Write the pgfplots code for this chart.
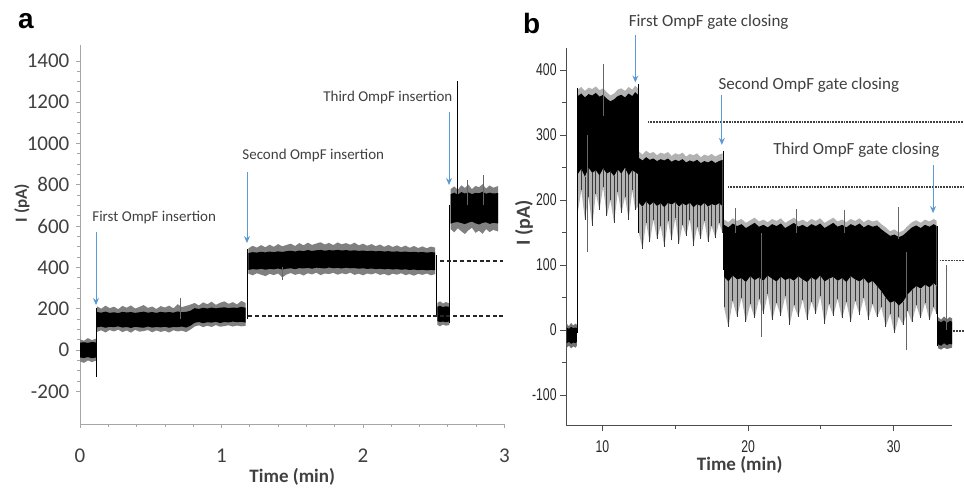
\documentclass[border=0pt]{standalone}
\usepackage{pgfplots}
\pgfplotsset{compat=1.18}
\usepackage{pgfplotstable}
\usepgfplotslibrary{fillbetween}
\usetikzlibrary{arrows.meta}
\usepackage{fontspec}
\setmainfont{Carlito}
\newfontfamily\narrowfont[FakeStretch=0.72]{Liberation Sans}
\newfontfamily\arialfont{Liberation Sans}
\definecolor{arrowblue}{HTML}{5B9BD5}
\definecolor{txtgray}{HTML}{404040}

% ---------- panel a segments: x (min), outer top, core top, core bottom, outer bottom (pA)
\pgfplotstableread{
x hi ct cb lo
0.000 52 36 -36 -55
0.028 45 38 -38 -62
0.056 58 35 -34 -50
0.084 48 39 -39 -58
0.112 55 37 -36 -52
}\Aa
\pgfplotstableread{
x hi ct cb lo
0.120 212 184 110 88
0.150 200 181 114 96
0.180 215 186 108 85
0.210 203 180 113 97
0.240 210 183 111 90
0.270 198 179 115 99
0.300 214 185 109 87
0.330 205 182 112 95
0.360 216 184 107 84
0.390 201 180 113 98
0.420 209 183 110 89
0.450 218 186 108 92
0.480 204 181 114 97
0.510 211 184 109 86
0.540 199 180 112 95
0.570 213 185 110 88
0.600 206 182 113 93
0.630 215 184 108 85
0.660 202 181 112 96
0.690 222 187 111 90
0.720 208 183 114 94
0.750 214 185 109 87
0.780 220 190 118 99
0.810 228 203 132 114
0.840 216 199 136 120
0.870 231 205 130 111
0.900 222 201 135 118
0.930 234 206 133 112
0.960 219 202 137 121
0.990 229 205 131 113
1.020 236 207 136 116
1.050 224 203 134 120
1.080 232 206 138 114
1.110 221 204 135 119
1.140 238 209 137 115
1.170 228 205 133 117
}\Ab
\pgfplotstableread{
x hi ct cb lo
1.19 492 470 388 370
1.22 505 474 392 362
1.25 496 472 390 372
1.28 508 476 394 365
1.31 498 473 389 358
1.34 510 477 393 369
1.37 500 474 391 363
1.40 513 478 395 371
1.43 502 475 390 352
1.46 509 479 394 366
1.49 515 481 396 373
1.52 504 477 392 364
1.55 518 482 397 370
1.58 507 479 395 361
1.61 520 484 398 372
1.64 509 480 394 366
1.67 516 483 399 375
1.70 522 485 397 363
1.73 511 481 395 371
1.76 519 484 400 368
1.79 508 482 396 374
1.82 521 485 398 365
1.85 512 482 395 372
1.88 518 484 399 367
1.91 510 481 396 375
1.94 520 483 397 364
1.97 507 480 394 370
2.00 515 482 396 362
2.03 505 479 393 371
2.06 513 481 395 366
2.09 503 478 392 373
2.12 511 480 394 364
2.15 500 477 391 369
2.18 509 479 393 361
2.21 499 476 390 370
2.24 507 478 392 365
2.27 497 475 389 372
2.30 506 477 391 363
2.33 495 474 388 368
2.36 504 476 390 360
2.39 494 473 387 369
2.42 502 475 389 364
2.45 493 472 386 371
2.48 501 474 388 362
2.51 496 473 387 368
}\Ac
\pgfplotstableread{
x hi ct cb lo
2.525 228 210 140 122
2.545 236 214 136 115
2.565 225 208 138 124
2.585 233 212 135 118
2.610 226 209 139 121
}\Ad
\pgfplotstableread{
x hi ct cb lo
2.620 780 755 612 585
2.645 792 762 618 570
2.670 776 752 620 590
2.695 798 765 615 575
2.720 785 758 610 562
2.745 801 763 617 580
2.770 779 755 622 592
2.795 795 761 614 568
2.820 788 759 608 578
2.845 803 766 616 563
2.870 782 757 619 586
2.895 797 762 611 571
2.920 786 758 616 582
2.955 794 760 613 574
}\Ae

% ---------- panel b segments
\pgfplotstableread{
x hi ct cb lo
7.55 10 4 -20 -27
7.70 6 2 -18 -24
7.85 11 5 -21 -28
8.00 7 3 -19 -25
8.15 10 4 -20 -27
8.25 8 3 -18 -24
}\Ba
\pgfplotstableread{
x hi ct cb lo
8.30 370 360 240 180
8.55 374 364 248 215
8.80 368 358 236 170
9.05 373 363 250 205
9.30 371 361 242 160
9.55 375 365 246 210
9.80 369 359 238 185
10.05 372 362 249 220
10.30 366 356 241 175
10.55 361 352 244 200
10.80 364 355 237 165
11.05 370 360 247 212
11.30 372 362 241 180
11.55 368 358 250 205
11.80 374 364 238 170
12.05 370 360 246 215
12.25 376 366 243 185
12.45 372 362 240 190
}\Bb
\pgfplotstableread{
x hi ct cb lo
12.50 275 265 196 150
12.75 270 261 190 125
13.00 276 266 198 165
13.25 272 262 192 135
13.50 274 264 197 170
13.75 269 260 191 140
14.00 273 263 195 160
14.25 271 261 189 128
14.50 274 264 196 168
14.75 268 259 193 138
15.00 272 262 197 172
15.25 270 260 190 132
15.50 273 263 195 162
15.75 267 258 192 145
16.00 271 261 196 170
16.25 269 259 189 130
16.50 272 262 194 158
16.75 266 257 191 140
17.00 270 260 196 168
17.25 268 258 190 135
17.50 271 261 194 160
17.75 267 257 192 142
18.00 270 260 195 165
18.25 272 262 191 150
}\Bc
\pgfplotstableread{
x hi ct cb lo
18.35 170 162 82 35
18.65 166 158 75 5
18.95 172 164 84 45
19.25 168 160 78 20
19.55 171 163 80 50
19.85 165 157 74 12
20.15 169 161 83 40
20.45 173 165 77 18
20.75 167 159 81 48
21.05 170 162 76 25
21.35 166 158 84 55
21.65 171 163 79 15
21.95 168 160 75 42
22.25 172 164 82 22
22.55 165 157 77 52
22.85 169 161 80 8
23.15 173 165 76 38
23.45 167 159 83 20
23.75 170 162 78 47
24.05 166 158 74 15
24.35 171 163 81 44
24.65 168 160 77 25
24.95 172 164 84 52
25.25 165 157 75 10
25.55 169 161 79 40
25.85 173 165 82 22
26.15 167 159 76 48
26.45 170 162 80 18
26.75 166 158 74 43
27.05 171 163 83 12
27.35 168 160 78 45
27.65 172 164 75 24
27.95 166 158 80 50
28.25 170 162 72 16
28.55 167 159 76 40
28.85 169 161 68 20
29.15 163 155 60 35
29.45 158 150 50 5
29.75 152 145 42 25
30.05 155 147 45 -5
30.35 150 143 38 20
30.65 153 146 44 8
30.95 160 152 55 30
31.25 166 158 62 12
31.55 169 161 68 38
31.85 165 157 64 18
32.15 170 162 70 42
32.45 167 159 66 15
32.75 171 163 72 35
32.95 168 160 68 25
}\Bd
\pgfplotstableread{
x hi ct cb lo
33.05 20 14 -22 -28
33.25 16 12 -24 -30
33.45 21 15 -20 -27
33.65 17 11 -23 -29
33.85 20 14 -21 -28
34.00 18 13 -22 -27
}\Be

\newcommand{\band}[4]{%
  \addplot[draw=none, forget plot, name path=#2hi] table[x=x,y=hi] {#1};
  \addplot[draw=none, forget plot, name path=#2lo] table[x=x,y=lo] {#1};
  \addplot[draw=none, forget plot, name path=#2ct] table[x=x,y=ct] {#1};
  \addplot[draw=none, forget plot, name path=#2cb] table[x=x,y=cb] {#1};
  \addplot[fill=#3, draw=none, forget plot] fill between[of=#2hi and #2lo];
  \addplot[fill=#4, draw=none, forget plot] fill between[of=#2ct and #2cb];
}
% downward noise spikes: from the core bottom to the outer bottom of each row
\newcommand{\spikes}[1]{%
  \addplot[only marks, mark=none, mark size=0pt, mark options={draw=none, fill=none}, forget plot,
    error bars/.cd, y dir=minus, y explicit, error mark=none,
    error bar style={black!78, line width=0.4pt}]
    table[x=x, y=cb, y error minus expr=\thisrow{cb}-\thisrow{lo}] {#1};
}

\begin{document}
\begin{tikzpicture}

\node[anchor=base west, font=\arialfont\bfseries\fontsize{14}{16}\selectfont] at (5.5pt,-14pt) {a};
\node[anchor=base west, font=\arialfont\bfseries\fontsize{14}{16}\selectfont] at (258pt,-16.5pt) {b};

% ================= panel a
\begin{axis}[
  at={(40pt,-212pt)}, anchor=south west,
  scale only axis, width=212.25pt, height=189.5pt,
  xmin=0, xmax=3, ymin=-358, ymax=1477,
  axis lines*=left, axis line style={gray!70, line width=0.4pt},
  xtick={0,1,2,3}, minor x tick num=4,
  ytick={-200,0,200,400,600,800,1000,1200,1400}, minor y tick num=3,
  tick align=outside, major tick length=1.8pt, minor tick length=1.5pt,
  tick style={gray!70, line width=0.4pt},
  /pgf/number format/assume math mode=true,
  /pgf/number format/1000 sep={},
  scaled ticks=false,
  ticklabel style={font=\fontsize{10.5}{12}\selectfont, text=txtgray},
  xticklabel style={yshift=-7pt},
  xlabel={Time (min)}, ylabel={I (pA)},
  xlabel style={at={(axis description cs:0.5,-0.14)}, anchor=center, font=\bfseries\fontsize{9.5}{11}\selectfont, text=txtgray},
  ylabel style={at={(axis description cs:-0.137,0.583)}, anchor=center, rotate=0, font=\bfseries\fontsize{8.5}{10}\selectfont, text=txtgray},
  clip=false,
]
\band{\Aa}{Aa}{black!50}{black}
\band{\Ab}{Ab}{black!50}{black}
\band{\Ac}{Ac}{black!50}{black}
\band{\Ad}{Ad}{black!50}{black}
\band{\Ae}{Ae}{black!50}{black}
% transitions
\addplot[black, line width=0.5pt, unbounded coords=jump, forget plot] coordinates {
(0.114,-130) (0.114,205) (0.114,nan)
(1.185,150) (1.185,490) (1.185,nan)
(2.52,160) (2.52,460) (2.52,nan)
(2.613,130) (2.613,700) (2.613,nan)
(2.668,650) (2.668,1305)
};
% spikes
\addplot[black!60, line width=0.4pt, unbounded coords=jump, forget plot] coordinates {
(0.71,150) (0.71,252) (0.71,nan)
(1.43,339) (1.43,400) (1.43,nan)
(2.74,700) (2.74,823) (2.74,nan)
(2.85,700) (2.85,847)
};
% level lines
\addplot[black!85, line width=0.8pt, dash pattern=on 2pt off 1.3pt, forget plot] coordinates {(1.19,165) (2.99,165)};
\addplot[black!85, line width=0.8pt, dash pattern=on 2pt off 1.3pt, forget plot] coordinates {(2.545,431) (2.99,431)};
% annotations
\node[anchor=west, font=\fontsize{7.5}{9}\selectfont, text=txtgray, inner sep=0pt] at (axis cs:0.085,644) {First OmpF insertion};
\node[anchor=west, font=\fontsize{7.5}{9}\selectfont, text=txtgray, inner sep=0pt] at (axis cs:1.145,944) {Second OmpF insertion};
\node[anchor=west, font=\fontsize{7.5}{9}\selectfont, text=txtgray, inner sep=0pt] at (axis cs:1.717,1225) {Third OmpF insertion};
\draw[arrowblue, line width=0.45pt, -{Stealth[length=3.5pt,width=3pt]}] (axis cs:0.113,571) -- (axis cs:0.113,218);
\draw[arrowblue, line width=0.45pt, -{Stealth[length=3.5pt,width=3pt]}] (axis cs:1.18,862) -- (axis cs:1.18,518);
\draw[arrowblue, line width=0.45pt, -{Stealth[length=3.5pt,width=3pt]}] (axis cs:2.608,1152) -- (axis cs:2.608,799);
\end{axis}

% ================= panel b
\begin{axis}[
  at={(283pt,-212.5pt)}, anchor=south west,
  scale only axis, width=193pt, height=188.5pt,
  xmin=7.5, xmax=34, ymin=-146, ymax=434,
  axis lines*=left, axis line style={black!70, line width=0.5pt},
  xtick={10,20,30}, minor xtick={15,25},
  ytick={-100,0,100,200,300,400}, minor ytick={-50,50,150,250,350},
  tick align=outside, major tick length=3pt, minor tick length=1.8pt,
  tick style={black!70, line width=0.5pt},
  /pgf/number format/assume math mode=true,
  /pgf/number format/1000 sep={},
  scaled ticks=false,
  ticklabel style={font=\narrowfont\fontsize{8.5}{10}\selectfont, text=black!85},
  yticklabel style={inner sep=1.5pt},
  xticklabel style={yshift=-1.5pt},
  xlabel={Time (min)}, ylabel={I (pA)},
  xlabel style={at={(axis description cs:0.45,-0.106)}, anchor=center, font=\bfseries\fontsize{9.5}{11}\selectfont, text=txtgray},
  ylabel style={at={(axis description cs:-0.109,0.536)}, anchor=center, rotate=0, font=\bfseries\fontsize{10}{12}\selectfont, text=txtgray},
  clip=false,
]
\band{\Ba}{Ba}{black!55}{black}
\band{\Bb}{Bb}{black!30}{black}
\band{\Bc}{Bc}{black!30}{black}
\band{\Bd}{Bd}{black!30}{black}
\band{\Be}{Be}{black!55}{black}
\spikes{\Bb}
\spikes{\Bc}
\spikes{\Bd}
% transitions
\addplot[black, line width=0.5pt, unbounded coords=jump, forget plot] coordinates {
(8.27,-5) (8.27,372) (8.27,nan)
(12.47,150) (12.47,378) (12.47,nan)
(18.3,92) (18.3,275) (18.3,nan)
(33.0,-25) (33.0,160)
};
% spikes
\addplot[black!60, line width=0.4pt, unbounded coords=jump, forget plot] coordinates {
(9.0,120) (9.0,300) (9.0,nan)
(10.07,330) (10.07,410) (10.07,nan)
(19.1,150) (19.1,188) (19.1,nan)
(20.9,-11) (20.9,150) (20.9,nan)
(23.3,150) (23.3,186) (23.3,nan)
(26.6,150) (26.6,185) (26.6,nan)
(30.3,140) (30.3,190) (30.3,nan)
(30.9,-30) (30.9,120) (30.9,nan)
(33.6,0) (33.6,100)
};
% level lines
\addplot[black!75, line width=0.9pt, dash pattern=on 0.9pt off 0.5pt, forget plot] coordinates {(13.1,320) (34.8,320)};
\addplot[black!75, line width=0.9pt, dash pattern=on 0.9pt off 0.5pt, forget plot] coordinates {(18.6,220) (34.8,220)};
\addplot[black!75, line width=0.9pt, dash pattern=on 0.9pt off 0.5pt, forget plot] coordinates {(33.15,107) (34.8,107)};
\addplot[black!75, line width=0.9pt, dash pattern=on 0.9pt off 0.5pt, forget plot] coordinates {(34.1,-1) (34.8,-1)};
% annotations
\node[anchor=west, font=\fontsize{8.5}{10}\selectfont, text=txtgray, inner sep=0pt] at (axis cs:11.78,474) {First OmpF gate closing};
\node[anchor=west, font=\fontsize{8.5}{10}\selectfont, text=txtgray, inner sep=0pt] at (axis cs:17.95,377) {Second OmpF gate closing};
\node[anchor=west, font=\fontsize{8.5}{10}\selectfont, text=txtgray, inner sep=0pt] at (axis cs:21.71,277) {Third OmpF gate closing};
\draw[arrowblue, line width=0.45pt, -{Stealth[length=3.5pt,width=3pt]}] (axis cs:12.26,454) -- (axis cs:12.26,381);
\draw[arrowblue, line width=0.45pt, -{Stealth[length=3.5pt,width=3pt]}] (axis cs:18.2,361) -- (axis cs:18.2,285);
\draw[arrowblue, line width=0.45pt, -{Stealth[length=3.5pt,width=3pt]}] (axis cs:32.7,254) -- (axis cs:32.7,180);
\end{axis}

\pgfresetboundingbox
\useasboundingbox (0,0) rectangle (482pt,-244.5pt);
\end{tikzpicture}
\end{document}
